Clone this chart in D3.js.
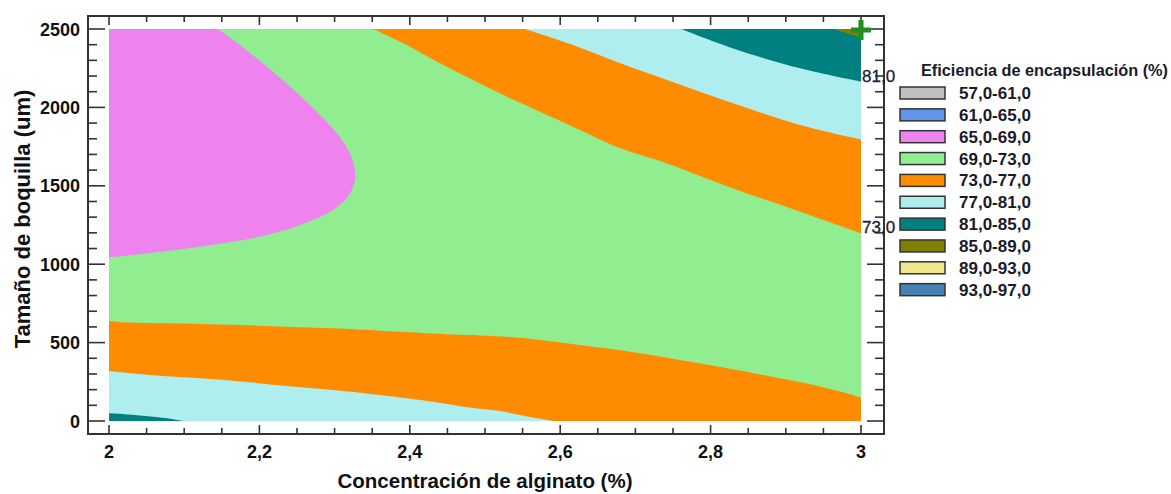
<!DOCTYPE html>
<html>
<head>
<meta charset="utf-8">
<script src="https://cdn.jsdelivr.net/npm/d3@7"></script>
<style>
  html, body { margin: 0; padding: 0; background: #fff; }
  svg { display: block; font-family: "Liberation Sans", Arial, sans-serif; }
</style>
</head>
<body>
<svg id="chart" width="1171" height="494"></svg>
<script>
// Axis ticks
const xTicks = [2, 2.2, 2.4, 2.6, 2.8, 3];
const yTicks = [0, 500, 1000, 1500, 2000, 2500];

// Legend bands (response ranges) and their fill colours
const bandLabels = ["57,0-61,0", "61,0-65,0", "65,0-69,0", "69,0-73,0", "73,0-77,0",
                    "77,0-81,0", "81,0-85,0", "85,0-89,0", "89,0-93,0", "93,0-97,0"];
const bandColors = ["#c0c0c0", "#6495ed", "#ee82ee", "#90ee90", "#ff8c00",
                    "#afeeee", "#008080", "#808000", "#f0e68c", "#4682b4"];

// Contour lines [alginato %, boquilla um]
const contour69 = [[2.145,2500],[2.174,2398],[2.210,2260],[2.241,2132],[2.276,1973],[2.303,1835],
  [2.318,1728],[2.326,1622],[2.327,1537],[2.318,1431],[2.298,1346],[2.254,1250],[2.210,1186],
  [2.165,1144],[2.121,1112],[2.077,1084],[2.032,1059],[2.0,1044]];
const contour73Upper = [[2.351,2500],[2.396,2398],[2.440,2281],[2.484,2175],[2.529,2068],[2.573,1973],
  [2.617,1877],[2.680,1739],[2.742,1643],[2.830,1483],[2.919,1335],[3.0,1197]];
const contour77Upper = [[2.553,2500],[2.617,2398],[2.680,2281],[2.742,2175],[2.830,2026],
  [2.919,1888],[3.0,1796]];
const contour81Upper = [[2.761,2500],[2.830,2376],[2.919,2249],[3.0,2164]];
const contour85Upper = [[2.963,2500],[3.0,2445]];
const contour73Lower = [[2.0,638],[2.021,629],[2.121,619],[2.179,612],[2.236,601],[2.298,591],
  [2.360,576],[2.400,566],[2.458,551],[2.493,546],[2.538,534],[2.582,512],[2.626,485],[2.671,457],
  [2.715,425],[2.759,389],[2.804,353],[2.848,314],[2.892,272],[2.937,230],[2.981,177],[3.0,149]];
const contour77Lower = [[2.0,319],[2.055,293],[2.121,272],[2.179,251],[2.236,223],[2.298,198],
  [2.360,166],[2.431,123],[2.476,88],[2.520,63],[2.555,30],[2.590,0]];
const contour81Lower = [[2.0,49],[2.021,43],[2.059,27],[2.081,15],[2.100,0]];

// Contour labels at the right edge
const contourLabels = [{text: "81,0", y: 2164}, {text: "73,0", y: 1197}];
// Optimum marker
const optimum = [3, 2500];

const svg = d3.select("#chart");
const frame = {left: 88, right: 884, top: 16, bottom: 434};
const x = d3.scaleLinear().domain([2, 3]).range([109, 861]);
const y = d3.scaleLinear().domain([0, 2500]).range([421, 29]);

const smooth = d3.line().x(d => x(d[0])).y(d => y(d[1])).curve(d3.curveCatmullRom.alpha(0.5));
// polygon: smoothed contour followed by straight corner points
function region(contour, corners) {
  let p = smooth(contour);
  corners.forEach(c => { p += "L" + x(c[0]) + "," + y(c[1]); });
  return p + "Z";
}

const g = svg.append("g").attr("shape-rendering", "crispEdges");
g.append("rect").attr("x", x(2)).attr("y", y(2500))
  .attr("width", x(3) - x(2)).attr("height", y(0) - y(2500)).attr("fill", bandColors[3]);

const regions = [
  {c: contour69, k: [[2, 2500]], col: bandColors[2]},
  {c: contour73Upper, k: [[3, 2500]], col: bandColors[4]},
  {c: contour77Upper, k: [[3, 2500]], col: bandColors[5]},
  {c: contour81Upper, k: [[3, 2500]], col: bandColors[6]},
  {c: contour85Upper, k: [[3, 2500]], col: bandColors[7]},
  {c: contour73Lower, k: [[3, 0], [2, 0]], col: bandColors[4]},
  {c: contour77Lower, k: [[2, 0]], col: bandColors[5]},
  {c: contour81Lower, k: [[2, 0]], col: bandColors[6]}
];
g.selectAll("path.band").data(regions).join("path")
  .attr("class", "band")
  .attr("d", d => region(d.c, d.k))
  .attr("fill", d => d.col)
  .attr("shape-rendering", "geometricPrecision");

// Frame
svg.append("rect").attr("x", frame.left).attr("y", frame.top)
  .attr("width", frame.right - frame.left).attr("height", frame.bottom - frame.top)
  .attr("fill", "none").attr("stroke", "#333").attr("stroke-width", 2);

// Ticks on all four sides, pointing inward
const xMinor = d3.range(0, 21).map(i => 2 + i * 0.05);
const yMinor = d3.range(0, 26).map(i => i * 100);
const isMajorX = v => Math.abs(v * 5 - Math.round(v * 5)) < 1e-6;
const isMajorY = v => v % 500 === 0;
const tg = svg.append("g").attr("stroke", "#333").attr("stroke-width", 1.6);
xMinor.forEach(v => {
  const len = isMajorX(v) ? 9 : 6;
  tg.append("line").attr("x1", x(v)).attr("x2", x(v)).attr("y1", frame.bottom).attr("y2", frame.bottom - len);
  tg.append("line").attr("x1", x(v)).attr("x2", x(v)).attr("y1", frame.top).attr("y2", frame.top + len);
});
yMinor.forEach(v => {
  const len = isMajorY(v) ? 17 : 9;
  tg.append("line").attr("y1", y(v)).attr("y2", y(v)).attr("x1", frame.left).attr("x2", frame.left + len);
  tg.append("line").attr("y1", y(v)).attr("y2", y(v)).attr("x1", frame.right).attr("x2", frame.right - len);
});

// Tick labels
const fmt = v => String(v).replace(".", ",");
svg.append("g").selectAll("text").data(xTicks).join("text")
  .attr("x", d => x(d)).attr("y", 458).attr("text-anchor", "middle")
  .attr("font-size", 18).attr("font-weight", "bold").attr("fill", "#111").text(fmt);
svg.append("g").selectAll("text").data(yTicks).join("text")
  .attr("x", 80).attr("y", d => y(d) + 6.5).attr("text-anchor", "end")
  .attr("font-size", 18).attr("font-weight", "bold").attr("fill", "#111").text(d => d);

// Axis titles
svg.append("text").attr("x", (x(2) + x(3)) / 2).attr("y", 488).attr("text-anchor", "middle")
  .attr("font-size", 20.5).attr("font-weight", "bold").attr("fill", "#111")
  .text("Concentración de alginato (%)");
svg.append("text").attr("transform", "translate(30," + 219 + ") rotate(-90)")
  .attr("text-anchor", "middle").attr("font-size", 22).attr("font-weight", "bold").attr("fill", "#111")
  .text("Tamaño de boquilla (um)");

// Contour labels
svg.append("g").selectAll("text").data(contourLabels).join("text")
  .attr("x", 862).attr("y", d => y(d.y)).attr("font-size", 17).attr("fill", "#18203c")
  .attr("stroke", "#18203c").attr("stroke-width", 0.3)
  .text(d => d.text);

// Optimum marker
const mx = x(optimum[0]), my = y(optimum[1]) + 1;
svg.append("path").attr("d", `M${mx - 10},${my}H${mx + 10}M${mx},${my - 10}V${my + 10}`)
  .attr("stroke", "#1f8f1f").attr("stroke-width", 5).attr("fill", "none");

// Legend
const lg = svg.append("g");
lg.append("text").attr("x", 921).attr("y", 76).attr("font-size", 16.3).attr("font-weight", "bold")
  .attr("fill", "#1a1a2a").text("Eficiencia de encapsulación (%)");
const rowY = i => 93 + i * 21.85;
lg.selectAll("rect").data(bandColors).join("rect")
  .attr("x", 900).attr("y", (d, i) => rowY(i) - 6).attr("width", 45).attr("height", 12)
  .attr("fill", d => d).attr("stroke", "#333").attr("stroke-width", 1.5);
lg.selectAll("text.lab").data(bandLabels).join("text").attr("class", "lab")
  .attr("x", 959).attr("y", (d, i) => rowY(i) + 6).attr("font-size", 17).attr("font-weight", "bold")
  .attr("fill", "#1a1a2a").text(d => d);
</script>
</body>
</html>
